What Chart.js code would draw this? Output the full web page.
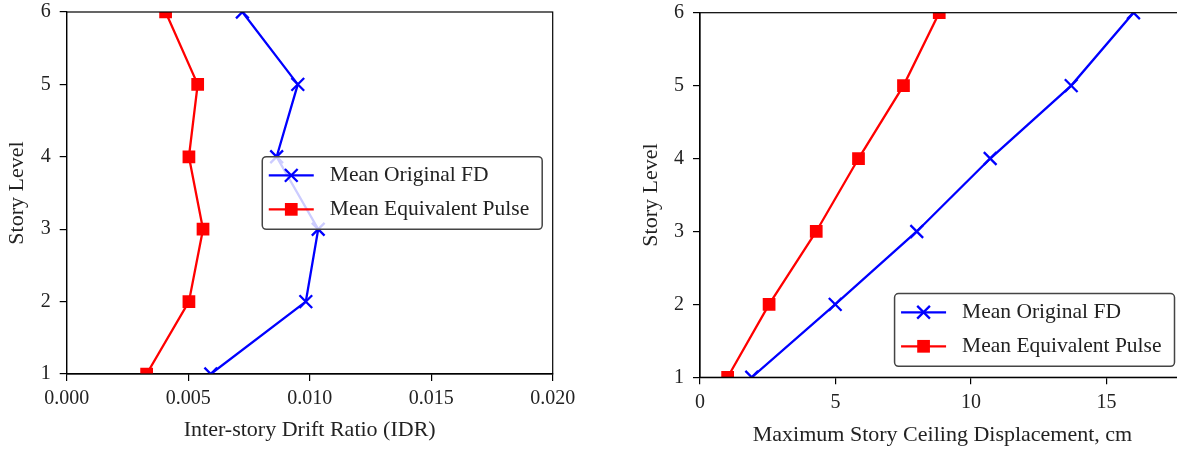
<!DOCTYPE html>
<html>
<head>
<meta charset="utf-8">
<script src="https://cdn.jsdelivr.net/npm/chart.js@4/dist/chart.umd.min.js"></script>
<style>
  html, body { margin: 0; padding: 0; background: #fff; overflow: hidden; }
  body { width: 1177px; height: 449px; position: relative; }
  .panel { position: absolute; top: 0; height: 449px; }
  #idrPanel { left: 0; width: 600px; }
  #dispPanel { left: 634px; width: 566px; }
</style>
</head>
<body>
<div class="panel" id="idrPanel"><canvas id="idrChart"></canvas></div>
<div class="panel" id="dispPanel"><canvas id="dispChart"></canvas></div>
<script>
const storyLevels = [1, 2, 3, 4, 5, 6];

// inter-story drift ratio per level
const idrOriginalFD = [0.00593, 0.00984, 0.01035, 0.00864, 0.00951, 0.00723];
const idrEquivPulse = [0.00329, 0.00503, 0.00561, 0.00503, 0.00539, 0.00407];

// max ceiling displacement per level (cm)
const dispOriginalFD = [1.91, 4.99, 8.0, 10.71, 13.7, 16.0];
const dispEquivPulse = [1.02, 2.55, 4.29, 5.85, 7.51, 8.83];

const idrTicks = [0, 0.005, 0.010, 0.015, 0.020];
const dispTicks = [0, 5, 10, 15];
const levelTicks = [1, 2, 3, 4, 5, 6];

const FONT = '"Liberation Serif", "Times New Roman", serif';
const TEXT = '#222';

function roundedBox(ctx, x, y, w, h, r) {
    ctx.beginPath();
    ctx.moveTo(x + r, y);
    ctx.lineTo(x + w - r, y);
    ctx.arcTo(x + w, y, x + w, y + r, r);
    ctx.lineTo(x + w, y + h - r);
    ctx.arcTo(x + w, y + h, x + w - r, y + h, r);
    ctx.lineTo(x + r, y + h);
    ctx.arcTo(x, y + h, x, y + h - r, r);
    ctx.lineTo(x, y + r);
    ctx.arcTo(x, y, x + r, y, r);
    ctx.closePath();
}

// full frame round the plot + legend box inside the axes
const frameAndLegend = {
    id: 'frameAndLegend',
    afterDatasetsDraw(chart, args, opts) {
        const { ctx, chartArea: a } = chart;
        ctx.save();
        ctx.strokeStyle = '#000';
        ctx.lineWidth = 1.2;
        ctx.strokeRect(a.left, a.top, a.right - a.left, a.bottom - a.top);

        ctx.font = '21.5px ' + FONT;
        const labels = chart.data.datasets.map(d => d.label);
        const textW = Math.max(...labels.map(t => ctx.measureText(t).width));
        const w = 6.5 + 45 + 16 + textW + 13;
        const h = 72.7;
        const x = a.right - 10.5 - w;
        const y = opts.loc === 'center right'
            ? (a.top + a.bottom) / 2 - h / 2
            : a.bottom - 11 - h;

        roundedBox(ctx, x, y, w, h, 4);
        ctx.fillStyle = 'rgba(255,255,255,0.8)';
        ctx.fill();
        ctx.strokeStyle = '#444';
        ctx.lineWidth = 1.5;
        ctx.stroke();

        chart.data.datasets.forEach((ds, i) => {
            const cy = y + 18.7 + i * 34;
            ctx.strokeStyle = ds.borderColor;
            ctx.fillStyle = ds.backgroundColor;
            ctx.lineWidth = ds.borderWidth;
            ctx.beginPath();
            ctx.moveTo(x + 6.5, cy);
            ctx.lineTo(x + 51.5, cy);
            ctx.stroke();
            Chart.helpers.drawPoint(ctx, {
                pointStyle: ds.pointStyle,
                radius: ds.pointRadius,
                borderWidth: ds.pointBorderWidth,
                rotation: 0
            }, x + 29, cy);
            ctx.fillStyle = TEXT;
            ctx.textBaseline = 'middle';
            ctx.textAlign = 'left';
            ctx.fillText(ds.label, x + 67.5, cy);
        });
        ctx.restore();
    }
};

function series(xs) {
    return xs.map((v, i) => ({ x: v, y: storyLevels[i] }));
}

function makeChart(id, cfg) {
    const ctx = document.getElementById(id).getContext('2d');
    return new Chart(ctx, {
        type: 'scatter',
        data: {
            datasets: [{
                label: 'Mean Original FD',
                data: series(cfg.original),
                showLine: true,
                borderColor: '#0000ff',
                backgroundColor: '#0000ff',
                borderWidth: 2.3,
                pointStyle: 'crossRot',
                pointRadius: 9,
                pointBorderWidth: 2.3,
                clip: 0,
            }, {
                label: 'Mean Equivalent Pulse',
                data: series(cfg.pulse),
                showLine: true,
                borderColor: '#ff0000',
                backgroundColor: '#ff0000',
                borderWidth: 2.3,
                pointStyle: 'rect',
                pointRadius: 9,
                pointBorderWidth: 0,
                clip: 0,
            }]
        },
        options: {
            responsive: true,
            maintainAspectRatio: false,
            animation: false,
            events: [],
            layout: { padding: { top: cfg.padTop, right: cfg.padRight, left: 0, bottom: 0 } },
            plugins: {
                legend: { display: false },
                tooltip: { enabled: false },
                frameAndLegend: { loc: cfg.legendLoc },
            },
            scales: {
                x: {
                    type: 'linear',
                    min: cfg.xMin,
                    max: cfg.xMax,
                    afterBuildTicks: s => { s.ticks = cfg.xTicks.map(v => ({ value: v })); },
                    afterFit: s => { s.height = cfg.xAxisHeight; },
                    grid: { drawOnChartArea: false, drawTicks: true, tickLength: 7, color: '#000', lineWidth: 1.2 },
                    border: { display: true, color: '#000', width: 1.2 },
                    ticks: {
                        padding: 6,
                        color: TEXT,
                        maxRotation: 0,
                        font: { family: FONT, size: 20 },
                        callback: cfg.xFormat,
                    },
                    title: {
                        display: true,
                        text: cfg.xTitle,
                        color: TEXT,
                        font: { family: FONT, size: 22 },
                        padding: { top: 0, bottom: cfg.xTitlePad },
                    },
                },
                y: {
                    type: 'linear',
                    min: 1,
                    max: 6,
                    afterBuildTicks: s => { s.ticks = levelTicks.map(v => ({ value: v })); },
                    afterFit: s => {
                        s.width = cfg.yAxisWidth;
                        s.paddingTop = 0;
                        s.paddingBottom = 0;
                    },
                    grid: { drawOnChartArea: false, drawTicks: true, tickLength: 7, color: '#000', lineWidth: 1.2 },
                    border: { display: true, color: '#000', width: 1.2 },
                    ticks: {
                        padding: 9,
                        color: TEXT,
                        font: { family: FONT, size: 20 },
                        callback: v => String(v),
                    },
                    title: {
                        display: true,
                        text: 'Story Level',
                        color: TEXT,
                        font: { family: FONT, size: 22 },
                        padding: { top: 4, bottom: 0 },
                    },
                },
            },
        },
        plugins: [frameAndLegend],
    });
}

makeChart('idrChart', {
    original: idrOriginalFD,
    pulse: idrEquivPulse,
    xMin: 0, xMax: 0.02,
    xTicks: idrTicks,
    xFormat: v => v.toFixed(3),
    xTitle: 'Inter-story Drift Ratio (IDR)',
    xTitlePad: 6,
    xAxisHeight: 75,
    yAxisWidth: 66.7,
    padTop: 12,
    padRight: 47.3,
    legendLoc: 'center right',
});

makeChart('dispChart', {
    original: dispOriginalFD,
    pulse: dispEquivPulse,
    xMin: 0, xMax: 17.9,
    xTicks: dispTicks,
    xFormat: v => String(v),
    xTitle: 'Maximum Story Ceiling Displacement, cm',
    xTitlePad: 1,
    xAxisHeight: 71.7,
    yAxisWidth: 66,
    padTop: 12.7,
    padRight: 15,
    legendLoc: 'lower right',
});
</script>
</body>
</html>
